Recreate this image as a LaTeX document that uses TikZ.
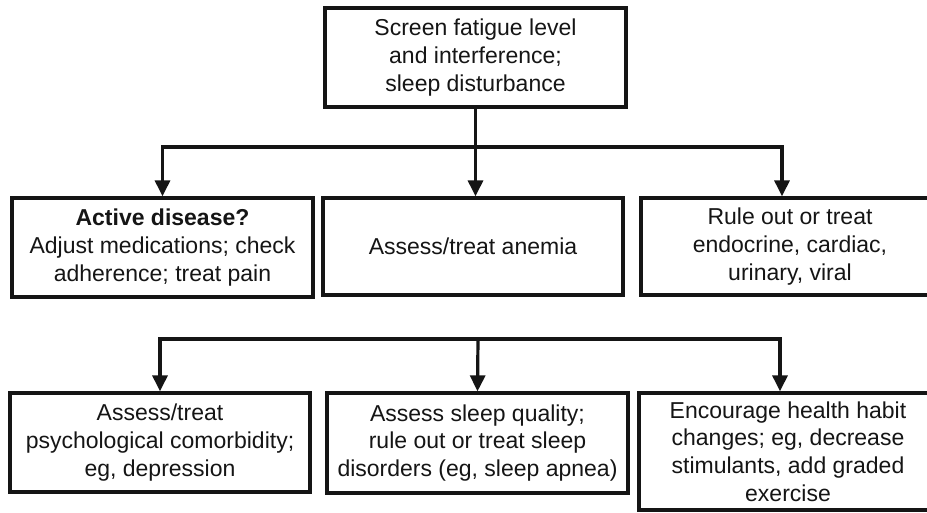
\documentclass[tikz,border=0pt]{standalone}
\usepackage{fontspec}
\setmainfont{Liberation Sans}
\usepackage{xcolor}
\usepackage{tikz}
\usetikzlibrary{calc,arrows.meta}
\definecolor{ink}{HTML}{151515}
\definecolor{paper}{HTML}{FFFFFF}
\tikzset{
  box/.style={draw=ink, line width=3.3pt, inner sep=0pt, align=center, text=ink,
    font=\fontsize{23}{27.6}\selectfont},
  link/.style={draw=ink, line width=3.2pt},
  arr/.style={link, -{Triangle[width=15pt,length=16pt]}}
}

\begin{document}
\begin{tikzpicture}[x=1pt,y=-1pt]
  \clip (0,0) rectangle (927,512);
  \fill[paper] (0,0) rectangle (927,512);

  \node[box, minimum width=301pt, minimum height=99pt] (screen) at (475.5,57.5)
    {Screen fatigue level\\and interference;\\sleep disturbance};

  \node[box, minimum width=301pt, minimum height=99pt] (disease) at (162.5,247.5)
    {\textbf{Active disease?}\\Adjust medications; check\\adherence; treat pain};
  \node[box, minimum width=300pt, minimum height=97pt] (anemia) at (473,246.5)
    {Assess/treat anemia};
  \node[box, minimum width=298pt, minimum height=97pt] (endo) at (790,246.5)
    {Rule out or treat\\endocrine, cardiac,\\urinary, viral};

  \node[box, minimum width=300pt, minimum height=99pt] (psych) at (160,442.5)
    {Assess/treat\\psychological comorbidity;\\eg, depression};
  \node[box, minimum width=301pt, minimum height=100pt] (sleep) at (477.5,443)
    {Assess sleep quality;\\rule out or treat sleep\\disorders (eg, sleep apnea)};
  \node[box, minimum width=298pt, minimum height=117pt] (habit) at (788,451.5)
    {Encourage health habit\\changes; eg, decrease\\stimulants, add graded\\exercise};

  \coordinate (fork1) at (475.5,147);
  \coordinate (fork2) at (478,339);

  \draw[link] (screen.south) -- (fork1);
  \draw[arr] (fork1) -| (disease.north);
  \draw[arr] (fork1) -- (fork1 |- anemia.north);
  \draw[arr] (fork1) -| ($(endo.north)+(-8,0)$);

  \draw[arr] (fork2) -| (psych.north);
  \draw[arr] (fork2) -- (sleep.north);
  \draw[arr] (fork2) -| ($(habit.north)+(-8,0)$);
\end{tikzpicture}
\end{document}
